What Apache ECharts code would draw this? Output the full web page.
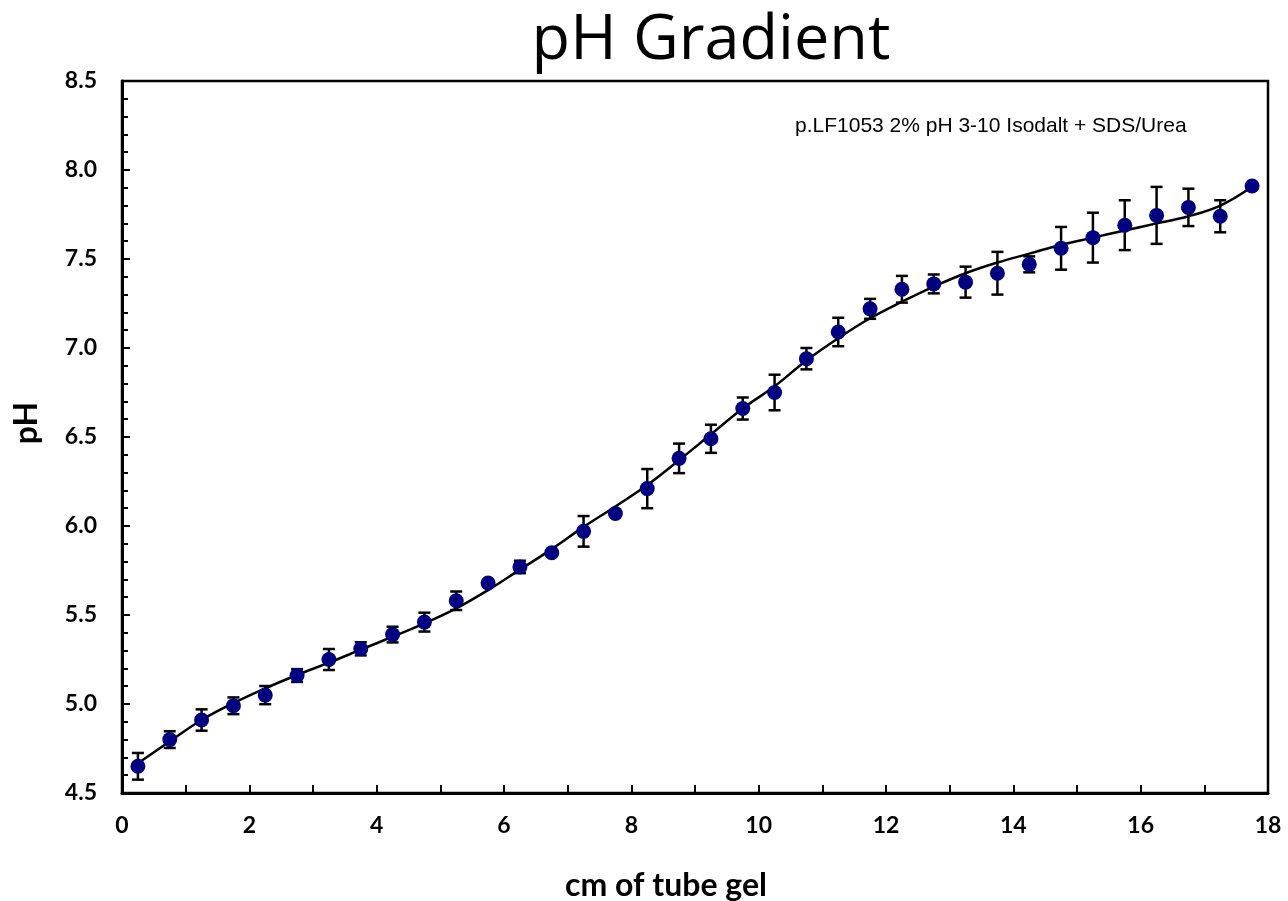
<!DOCTYPE html>
<html><head><meta charset="utf-8">
<script src="https://cdn.jsdelivr.net/npm/echarts@6/dist/echarts.min.js"></script>
<style>html,body{margin:0;padding:0;background:#fff}#c{width:1288px;height:901px}</style>
</head><body><div id="c"></div>
<script>
const xPos = [0.25,0.75,1.25,1.75,2.25,2.75,3.25,3.75,4.25,4.75,5.25,5.75,6.25,6.75,7.25,7.75,8.25,8.75,9.25,9.75,10.25,10.75,11.25,11.75,12.25,12.75,13.25,13.75,14.25,14.75,15.25,15.75,16.25,16.75,17.25,17.75];
const phMean = [4.65,4.80,4.91,4.99,5.05,5.16,5.25,5.31,5.39,5.46,5.58,5.68,5.77,5.85,5.97,6.07,6.21,6.38,6.49,6.66,6.75,6.94,7.09,7.22,7.33,7.36,7.37,7.42,7.47,7.56,7.62,7.69,7.745,7.79,7.74,7.91];
const phErr = [0.075,0.047,0.06,0.047,0.051,0.036,0.059,0.037,0.044,0.053,0.052,0,0.035,0.01,0.086,0,0.11,0.083,0.079,0.062,0.10,0.06,0.08,0.056,0.075,0.053,0.087,0.12,0.045,0.12,0.14,0.14,0.16,0.105,0.09,0];
const fitX = [0.25,0.75,1.25,1.75,2.25,2.75,3.25,3.75,4.25,4.75,5.25,5.75,6.25,6.75,7.25,7.75,8.25,8.75,9.25,9.75,10.25,10.75,11.25,11.75,12.25,12.75,13.25,13.75,14.25,14.75,15.25,15.75,16.25,16.75,17.25,17.75];
const fitY = [4.667,4.79,4.91,5.005,5.088,5.163,5.232,5.305,5.378,5.453,5.537,5.64,5.755,5.87,5.995,6.11,6.23,6.37,6.515,6.66,6.785,6.93,7.055,7.167,7.26,7.345,7.42,7.48,7.53,7.58,7.62,7.66,7.70,7.74,7.80,7.906];
const titleText = 'pH Gradient';
const xName = 'cm of tube gel';
const yName = 'pH';
const note = 'p.LF1053 2% pH 3-10 Isodalt + SDS/Urea';

const chart = echarts.init(document.getElementById('c'));
const errData = xPos.map((x,i)=>[x, phMean[i]-phErr[i], phMean[i]+phErr[i]]);
const bold = {fontFamily:'Lato', fontWeight:'bold', color:'#000'};
chart.setOption({
  animation:false,
  backgroundColor:'#fff',
  grid:{left:122, right:20, top:81, bottom:108, show:true, borderColor:'#000', borderWidth:2.5},
  graphic:[
    {type:'text', x:711, y:41, style:{text:titleText, font:'normal 63px "Open Sans"', fill:'#000', align:'center', verticalAlign:'middle'}},
    {type:'text', x:795, y:126, style:{text:note, font:'21px "Liberation Sans", Arial', fill:'#000', align:'left', verticalAlign:'middle'}},
    {type:'text', x:666, y:886, style:{text:xName, font:'bold 32px Lato', fill:'#000', align:'center', verticalAlign:'middle'}},
    {type:'text', x:27, y:423, rotation:Math.PI/2, style:{text:yName, font:'bold 32px Lato', fill:'#000', align:'center', verticalAlign:'middle'}}
  ],
  xAxis:{type:'value', min:0, max:18, interval:2,
    axisLine:{show:true, onZero:false, lineStyle:{color:'#000', width:3}},
    axisTick:{show:true, inside:true, length:8, lineStyle:{color:'#000', width:2}},
    minorTick:{show:true, splitNumber:2, length:8, lineStyle:{color:'#000', width:2}},
    splitLine:{show:false},
    axisLabel:Object.assign({fontSize:23, margin:21}, bold)},
  yAxis:{type:'value', min:4.5, max:8.5, interval:0.5,
    axisLine:{show:true, onZero:false, lineStyle:{color:'#000', width:3}},
    axisTick:{show:true, inside:true, length:8, lineStyle:{color:'#000', width:2}},
    minorTick:{show:true, splitNumber:5, length:6, lineStyle:{color:'#000', width:2}},
    splitLine:{show:false},
    axisLabel:Object.assign({fontSize:23, margin:25, formatter:v=>v.toFixed(1)}, bold)},
  series:[
    {type:'line', data:fitX.map((x,i)=>[x,fitY[i]]), smooth:0.4, showSymbol:false,
      lineStyle:{color:'#000', width:2.5}, z:2},
    {type:'custom', z:3, data:errData, renderItem:function(params, api){
      const x = api.value(0);
      const lo = api.coord([x, api.value(1)]);
      const hi = api.coord([x, api.value(2)]);
      if (Math.abs(hi[1]-lo[1]) < 1) return null;
      const cw = 6;
      const st = {stroke:'#000', lineWidth:2.5};
      return {type:'group', children:[
        {type:'line', shape:{x1:lo[0], y1:lo[1], x2:hi[0], y2:hi[1]}, style:st},
        {type:'line', shape:{x1:lo[0]-cw, y1:lo[1], x2:lo[0]+cw, y2:lo[1]}, style:st},
        {type:'line', shape:{x1:hi[0]-cw, y1:hi[1], x2:hi[0]+cw, y2:hi[1]}, style:st}
      ]};
    }},
    {type:'scatter', z:4, data:xPos.map((x,i)=>[x,phMean[i]]), symbol:'circle', symbolSize:15,
      itemStyle:{color:'#000080', opacity:1}}
  ]
});
</script></body></html>
